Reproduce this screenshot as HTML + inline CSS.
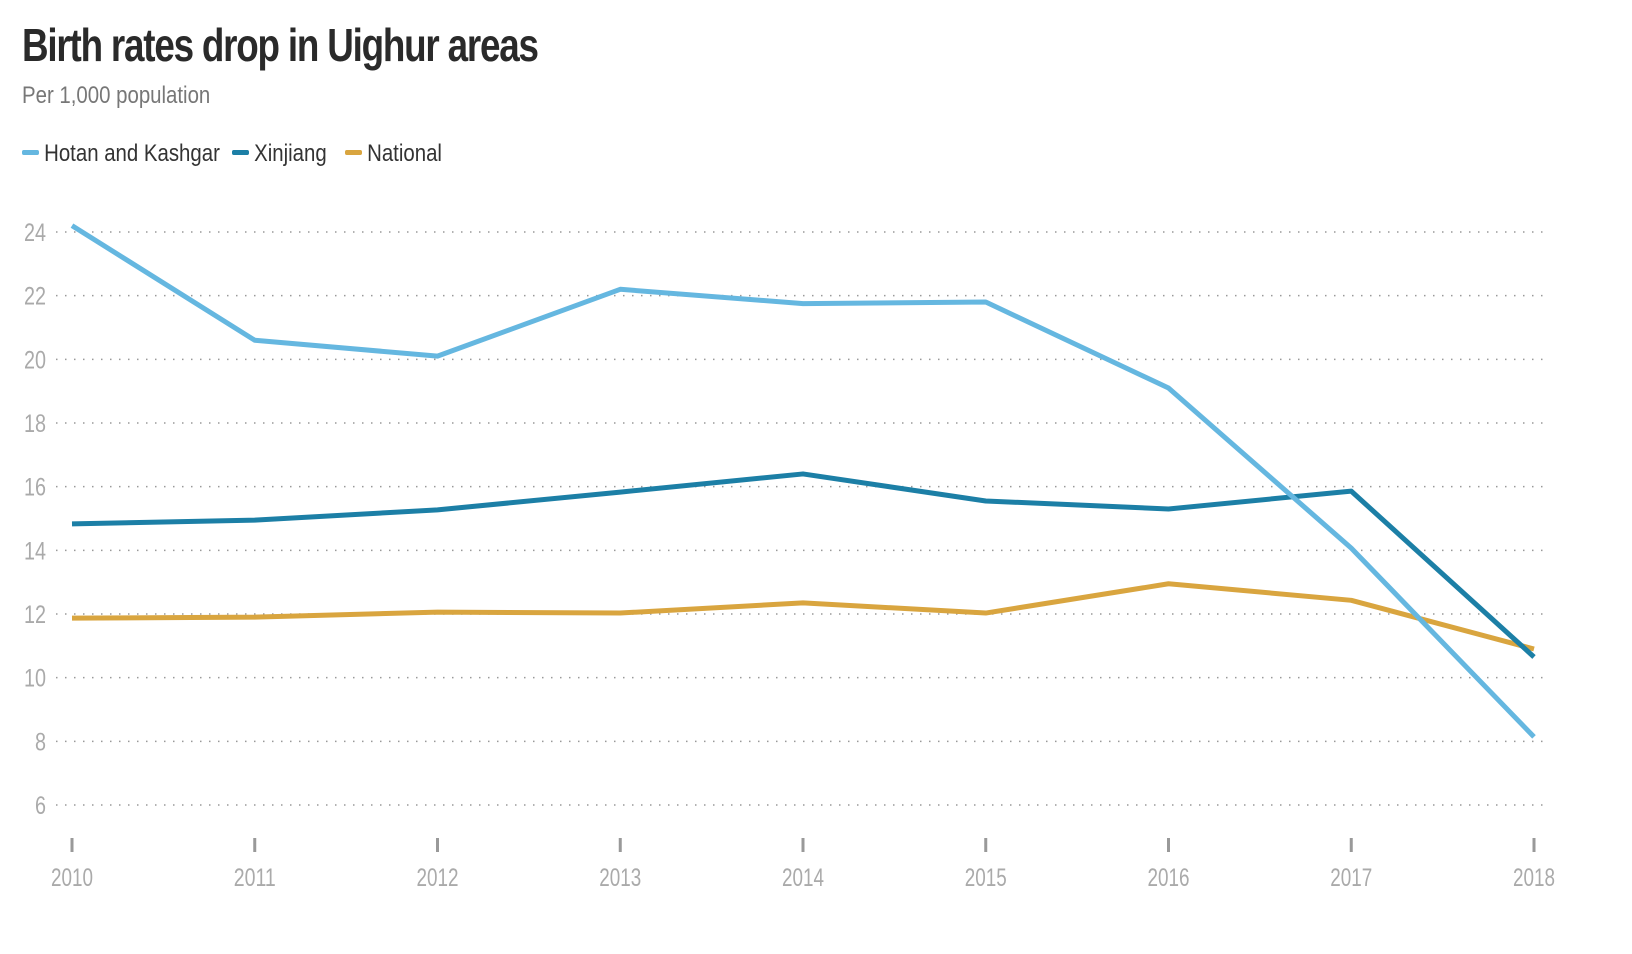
<!DOCTYPE html>
<html><head><meta charset="utf-8">
<style>
body{margin:0;background:#fff;width:1632px;height:954px;overflow:hidden;font-family:"Liberation Sans Narrow","Liberation Sans",sans-serif;}
.t{position:absolute;left:22px;top:18px;font-size:46px;font-weight:bold;color:#2a2a2a;letter-spacing:-1.5px;transform:scaleX(0.80);transform-origin:left top;white-space:nowrap}
.s{position:absolute;left:22px;top:82px;font-size:24px;color:#777;transform:scaleX(0.85);transform-origin:left top;white-space:nowrap}
.lg{position:absolute;top:140px;font-size:24px;color:#333;white-space:nowrap;transform:scaleX(0.85);transform-origin:left top}
.sw{display:inline-block;width:20px;height:5px;border-radius:2px;vertical-align:middle;margin-right:6px;margin-top:-4px}
</style></head><body>
<div class="t">Birth rates drop in Uighur areas</div>
<div class="s">Per 1,000 population</div>
<div class="lg" style="left:22px"><span class="sw" style="background:#65b7e0"></span>Hotan and Kashgar</div>
<div class="lg" style="left:232px"><span class="sw" style="background:#1c7fa6"></span>Xinjiang</div>
<div class="lg" style="left:345px"><span class="sw" style="background:#d9a53f"></span>National</div>
<svg id="c" width="1632" height="954" style="position:absolute;left:0;top:0"></svg>
<script>
const years=[2010,2011,2012,2013,2014,2015,2016,2017,2018];
const hotan=[24.2,20.6,20.1,22.2,21.75,21.8,19.1,14.07,8.14];
const xinjiang=[14.83,14.95,15.27,15.83,16.4,15.55,15.3,15.86,10.65];
const national=[11.87,11.9,12.06,12.03,12.35,12.03,12.95,12.43,10.9];
const yTicks=[6,8,10,12,14,16,18,20,22,24];
const NS='http://www.w3.org/2000/svg';
const svg=document.getElementById('c');
const x=i=>72+i*(1534-72)/8;
const y=v=>805-(v-6)*(805-232)/18;
function mk(t,a){const e=document.createElementNS(NS,t);for(const k in a)e.setAttribute(k,a[k]);svg.appendChild(e);return e;}
yTicks.forEach(v=>{
 const g=mk('line',{x1:56,x2:1550,y1:y(v),y2:y(v),stroke:'#999','stroke-width':1.5,'stroke-dasharray':'1.5 7.5'});
 
 
 const s=String(v);
 const t=mk('text',{x:46,y:y(v)+9,'text-anchor':'end','font-size':25,fill:'#aaa','font-family':'Liberation Sans Narrow, Liberation Sans, sans-serif',textLength:s.length*11,lengthAdjust:'spacingAndGlyphs'});
 t.textContent=s;
 
 
});
years.forEach((yr,i)=>{
 const tk=mk('line',{x1:x(i),x2:x(i),y1:838,y2:852,stroke:'#999','stroke-width':3});
 
 
 const t=mk('text',{x:x(i),y:886,'text-anchor':'middle','font-size':25,fill:'#aaa','font-family':'Liberation Sans Narrow, Liberation Sans, sans-serif',textLength:42,lengthAdjust:'spacingAndGlyphs'});
 t.textContent=yr;
 
 
});
function line(d,c,n){
 const p=mk('polyline',{points:d.map((v,i)=>x(i)+','+y(v)).join(' '),fill:'none',stroke:c,'stroke-width':5,'stroke-linejoin':'round'});
 
 
}
line(national,'#d9a53f','line-national');
line(xinjiang,'#1c7fa6','line-xinjiang');
line(hotan,'#65b7e0','line-hotan-kashgar');
</script>
</body></html>
